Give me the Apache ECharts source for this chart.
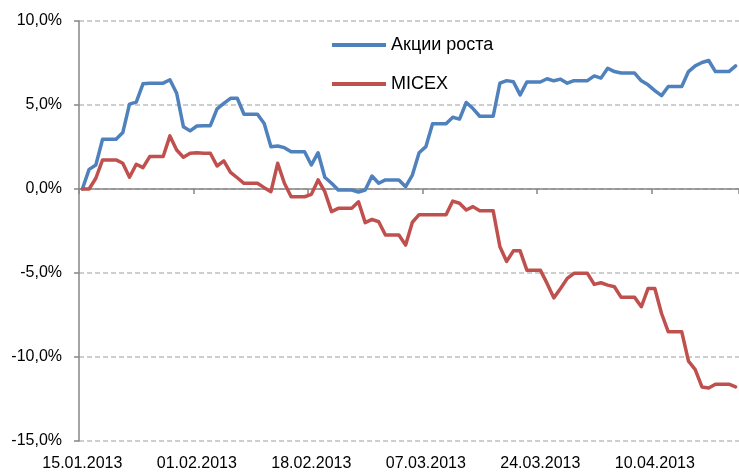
<!DOCTYPE html>
<html>
<head>
<meta charset="utf-8">
<script src="https://cdn.jsdelivr.net/npm/echarts@6/dist/echarts.min.js"></script>
<style>
  html, body { margin: 0; padding: 0; background: #fff; }
  #chart { width: 739px; height: 473px; }
</style>
</head>
<body>
<div id="chart"></div>
<script>
// календарные дни с 15.01.2013, выходные = значение пятницы
var startDay = new Date(2013, 0, 15);
var dayCount = 98;

var growth = [
    0.0, 1.17, 1.43, 2.96, 2.96, 2.96, 3.36, 5.05, 5.17, 6.26,
    6.30, 6.30, 6.30, 6.50, 5.70, 3.71, 3.46, 3.75, 3.77, 3.77,
    4.77, 5.10, 5.40, 5.40, 4.45, 4.45, 4.45, 3.90, 2.52, 2.56,
    2.46, 2.22, 2.22, 2.22, 1.43, 2.16, 0.70, 0.34, -0.06, -0.06,
    -0.06, -0.18, -0.06, 0.77, 0.34, 0.54, 0.54, 0.54, 0.14, 0.83,
    2.16, 2.52, 3.89, 3.89, 3.89, 4.27, 4.16, 5.15, 4.79, 4.33,
    4.33, 4.33, 6.30, 6.45, 6.38, 5.60, 6.37, 6.37, 6.37, 6.56,
    6.44, 6.54, 6.30, 6.45, 6.45, 6.45, 6.73, 6.60, 7.19, 6.99,
    6.90, 6.90, 6.90, 6.44, 6.20, 5.86, 5.56, 6.10, 6.10, 6.10,
    6.99, 7.33, 7.53, 7.65, 6.99, 6.99, 6.99, 7.33
];

var micex = [
    0.0, 0.0, 0.64, 1.73, 1.73, 1.73, 1.53, 0.70, 1.47, 1.27,
    1.93, 1.93, 1.93, 3.16, 2.32, 1.89, 2.13, 2.16, 2.13, 2.13,
    1.37, 1.67, 0.99, 0.67, 0.34, 0.34, 0.34, 0.08, -0.16, 1.53,
    0.34, -0.46, -0.46, -0.46, -0.32, 0.54, -0.16, -1.35, -1.15, -1.15,
    -1.15, -0.76, -2.00, -1.81, -1.95, -2.74, -2.74, -2.74, -3.34, -1.98,
    -1.53, -1.53, -1.53, -1.53, -1.53, -0.72, -0.85, -1.25, -1.05, -1.30,
    -1.30, -1.30, -3.44, -4.31, -3.68, -3.68, -4.83, -4.83, -4.83, -5.62,
    -6.48, -5.92, -5.32, -5.02, -5.02, -5.02, -5.68, -5.58, -5.72, -5.82,
    -6.45, -6.45, -6.45, -7.01, -5.92, -5.92, -7.41, -8.50, -8.50, -8.50,
    -10.25, -10.75, -11.78, -11.84, -11.62, -11.62, -11.62, -11.78
];

var seriesNames = ['Акции роста', 'MICEX'];
var yTicks = [-15, -10, -5, 0, 5, 10];

function pad(n) { return n < 10 ? '0' + n : '' + n; }
var dates = [];
for (var i = 0; i < dayCount; i++) {
    var d = new Date(startDay.getTime());
    d.setDate(d.getDate() + i);
    dates.push(pad(d.getDate()) + '.' + pad(d.getMonth() + 1) + '.' + d.getFullYear());
}

var font = 'Liberation Sans, Arial, sans-serif';
var axisGray = '#868686';

var myChart = echarts.init(document.getElementById('chart'));
var option = {
    animation: false,
    color: ['#4F81BD', '#C0504D'],
    grid: {
        left: 79,
        right: 0,
        top: 21,
        bottom: 32,
        containLabel: false
    },
    legend: {
        data: seriesNames,
        orient: 'vertical',
        left: 327,
        top: 31,
        icon: 'rect',
        itemWidth: 54,
        itemHeight: 4,
        itemGap: 21,
        textStyle: { fontFamily: font, fontSize: 18, color: '#000' }
    },
    xAxis: [
        {   // подписи дат внизу
            type: 'category',
            data: dates,
            position: 'bottom',
            boundaryGap: true,
            axisLine: { show: false, onZero: false },
            axisTick: { show: false },
            axisLabel: {
                interval: 16,
                margin: 15,
                fontFamily: font,
                fontSize: 16,
                color: '#000'
            },
            splitLine: { show: false }
        },
        {   // линия оси на нуле
            type: 'category',
            data: dates,
            position: 'bottom',
            boundaryGap: true,
            axisLine: { show: true, onZero: true, lineStyle: { color: axisGray, width: 1.5 } },
            axisTick: { show: true, interval: 16, length: 5, lineStyle: { color: axisGray, width: 1.5 } },
            axisLabel: { show: false },
            splitLine: { show: false }
        }
    ],
    yAxis: {
        type: 'value',
        min: yTicks[0],
        max: yTicks[yTicks.length - 1],
        interval: 5,
        axisLine: { show: true, lineStyle: { color: axisGray, width: 1.5 } },
        axisTick: { show: true, length: 5, lineStyle: { color: axisGray, width: 1.5 } },
        axisLabel: {
            margin: 17,
            fontFamily: font,
            fontSize: 16,
            color: '#000',
            formatter: function (v) { return v.toFixed(1).replace('.', ',') + '%'; }
        },
        splitLine: {
            show: true,
            lineStyle: { color: '#BFBFBF', width: 1.5, type: [5, 3] }
        }
    },
    series: [
        {
            name: seriesNames[0],
            type: 'line',
            xAxisIndex: 0,
            data: growth,
            showSymbol: false,
            lineStyle: { width: 3.5, cap: 'round', join: 'round' }
        },
        {
            name: seriesNames[1],
            type: 'line',
            xAxisIndex: 0,
            data: micex,
            showSymbol: false,
            lineStyle: { width: 3.5, cap: 'round', join: 'round' }
        }
    ]
};
myChart.setOption(option);
</script>
</body>
</html>
